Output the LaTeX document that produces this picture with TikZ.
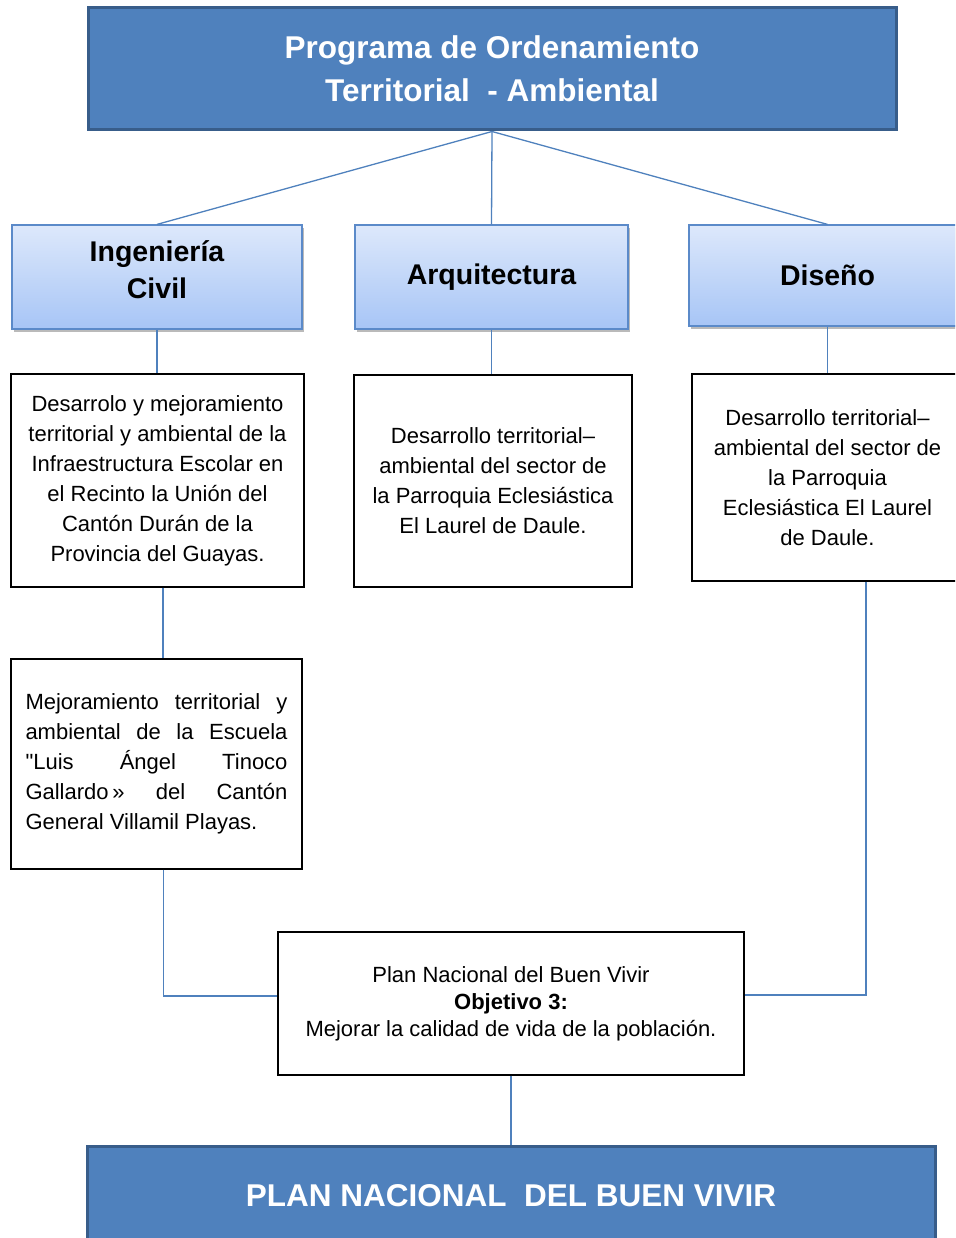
\documentclass[tikz,border=0pt]{standalone}
\usepackage{fontspec}
\setmainfont{Liberation Sans}[Ligatures=TeXOff]
\usetikzlibrary{shadows,calc}
\definecolor{hdrfill}{HTML}{4F81BD}
\definecolor{hdrdraw}{HTML}{385D8A}
\definecolor{gradtop}{HTML}{DDE8FB}
\definecolor{gradbot}{HTML}{A7C5F6}
\definecolor{catdraw}{HTML}{5B8AC9}
\definecolor{linkc}{HTML}{4F81BD}
\tolerance=10000
\hbadness=10000
\begin{document}
\begin{tikzpicture}[x=1pt,y=-1pt,
  hdrbox/.style={draw=hdrdraw, line width=3pt, fill=hdrfill, text=white,
    font=\fontsize{31.5}{43}\selectfont\bfseries, align=center, inner sep=0pt},
  catbox/.style={draw=catdraw, line width=1.2pt, top color=gradtop, bottom color=gradbot,
    drop shadow={shadow xshift=2pt, shadow yshift=-3pt, opacity=0.45, fill=black!60},
    font=\fontsize{28.5}{37}\selectfont\bfseries, align=center, inner sep=0pt},
  catfont/.style={font=\fontsize{28.5}{37}\selectfont\bfseries, align=center, inner sep=0pt},
  txtbox/.style={draw=black, line width=1.1pt, fill=white,
    font=\fontsize{22}{30}\selectfont, align=center, inner sep=0pt},
  link/.style={draw=linkc, line width=1.3pt}
]
\useasboundingbox (0,0) rectangle (955,1238);
\clip (0,0) rectangle (955,1238);

% header
\node[hdrbox, minimum width=808pt, minimum height=122pt] (top) at (492,69)
  {Programa de Ordenamiento\\Territorial\ \ - Ambiental};

% categories
\node[catbox, minimum width=290pt, minimum height=104pt,
  label={[name=ingT, catfont, yshift=7.5pt]center:{Ingeniería\\Civil}}] (ing) at (157,277) {};
\node[catbox, minimum width=273pt, minimum height=104pt] (arq) at (491.5,277) {Arquitectura};
\node[catbox, minimum width=277pt, minimum height=101pt] (dis) at (827.5,275.5) {Diseño};

% project boxes
\node[txtbox, minimum width=293pt, minimum height=213pt] (b1) at (157.5,480.5)
  {Desarrolo y mejoramiento\\territorial y ambiental de la\\Infraestructura Escolar en\\el Recinto la Unión del\\Cantón Durán de la\\Provincia del Guayas.};
\node[txtbox, minimum width=278pt, minimum height=212pt] (b2) at (493,481)
  {Desarrollo territorial–\\ambiental del sector de\\la Parroquia Eclesiástica\\El Laurel de Daule.};
\node[txtbox, minimum width=271pt, minimum height=207pt] (b3) at (827.5,477.5)
  {Desarrollo territorial–\\ambiental del sector de\\la Parroquia\\Eclesiástica El Laurel\\de Daule.};
\node[txtbox, minimum width=291pt, minimum height=210pt, text width=262pt, align=justify] (b4) at (156.5,764)
  {Mejoramiento territorial y\linebreak ambiental de la Escuela\linebreak "Luis Ángel Tinoco\linebreak Gallardo\,» del Cantón\linebreak General Villamil Playas.};

% objective box
\node[txtbox, minimum width=466pt, minimum height=143pt, font=\fontsize{22}{27}\selectfont] (b5) at (511,1003.5)
  {Plan Nacional del Buen Vivir\\\textbf{Objetivo 3:}\\Mejorar la calidad de vida de la población.};

% bottom header
\node[hdrbox, minimum width=848pt, minimum height=100pt] (bot) at (511,1196)
  {PLAN NACIONAL\ \ DEL BUEN VIVIR};

% connectors
\draw[link] (top.south) -- (ing.north);
\draw[link] (top.south) -- (arq.north);
\draw[link] (top.south) -- (dis.north);
\draw[link] (ing.south) -- (ing.south |- b1.north);
\draw[link] (arq.south) -- (arq.south |- b2.north);
\draw[link] (dis.south) -- (dis.south |- b3.north);
\draw[link] ([xshift=5.5pt]b1.south) -- ([xshift=5.5pt]b1.south |- b4.north);
\draw[link] ([xshift=7pt]b4.south) |- ([yshift=7.5pt]b5.west);
\draw[link] ([xshift=38.5pt]b3.south) |- ([yshift=8.5pt]b5.east);
\draw[link] (b5.south) -- (bot.north);
\end{tikzpicture}
\end{document}
